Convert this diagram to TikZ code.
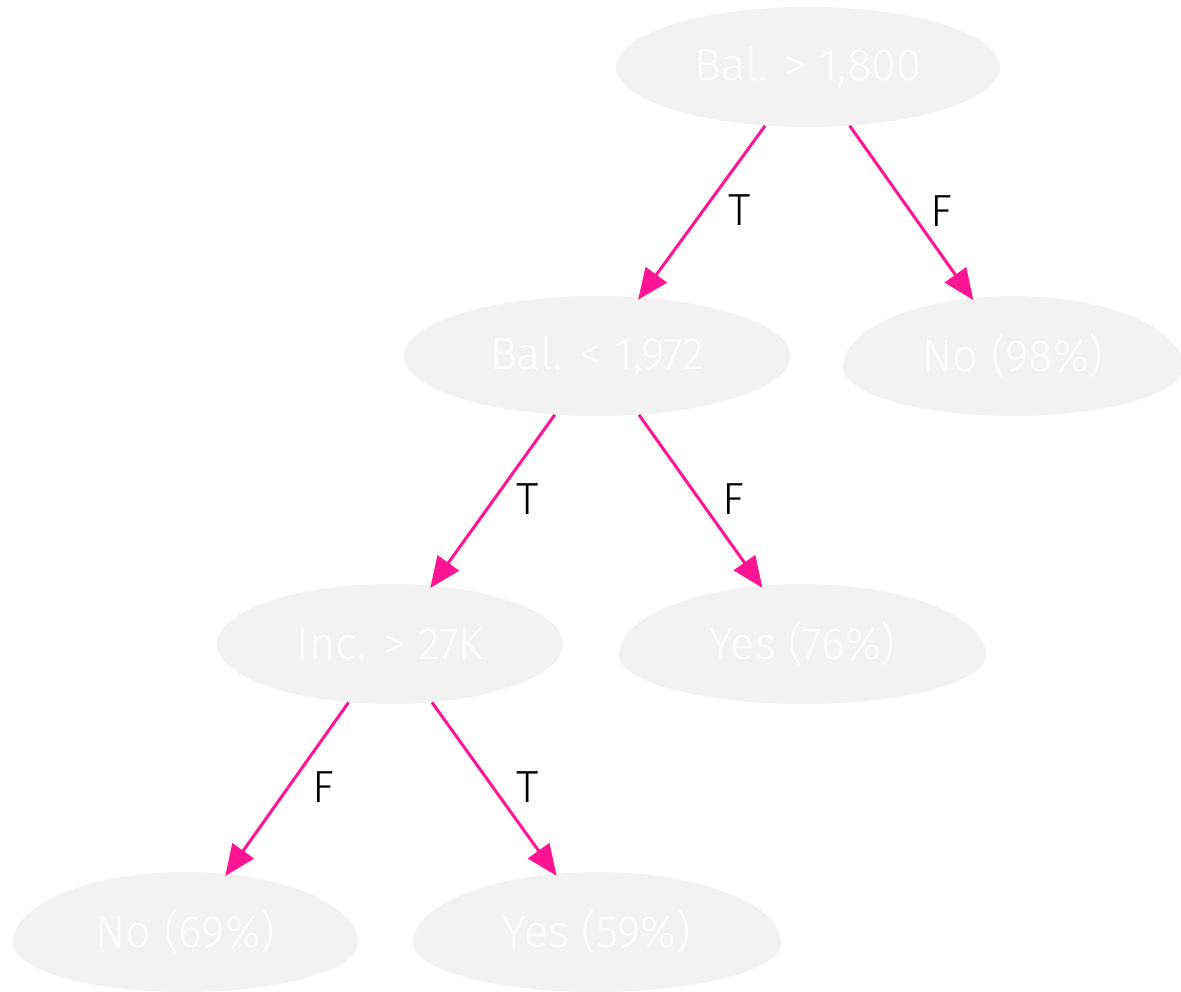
\documentclass[tikz,border=0pt]{standalone}
\usepackage{fontspec}
\setmainfont{Fira Sans Light}
\usetikzlibrary{shapes.geometric,arrows.meta,backgrounds,calc}
\definecolor{nodegrey}{HTML}{F2F2F2}
\definecolor{edgepink}{HTML}{FF1493}

% egg-shaped fill under a leaf node: #1 node name, #2 half width
\newcommand\eggfill[2]{%
  \fill[nodegrey] ($(#1.center)+(-#2,-11)$)
    arc[start angle=180,end angle=0,x radius=#2,y radius=71]
    arc[start angle=0,end angle=-180,x radius=#2,y radius=49] -- cycle;}

\begin{document}
\begin{tikzpicture}[x=1pt,y=1pt,
  every node/.style={font=\fontsize{45}{54}\selectfont},
  split/.style={ellipse, fill=nodegrey, text=white, inner sep=0pt, minimum height=120pt},
  leaf/.style={ellipse, text=white, inner sep=0pt, minimum height=120pt},
  branch/.style={draw=edgepink, line width=3pt,
    -{Triangle[length=31pt,width=26pt,fill=edgepink]}, shorten >=-3pt},
  cond/.style={text=black, yshift=1pt}]
\useasboundingbox (0,0) rectangle (1181,-992);

% decision nodes
\node[split, minimum width=384pt] (root) at (808,-67) {Bal. > 1,800};
\node[split, minimum width=386pt] (bal) at (597,-356) {Bal. < 1,972};
\node[split, minimum width=346pt] (inc) at (390,-644) {Inc. > 27K};

% leaves
\node[leaf, minimum width=340pt] (no98) at (1013,-356) {No (98\%)};
\node[leaf, minimum width=367pt] (yes76) at (802.5,-644) {Yes (76\%)};
\node[leaf, minimum width=345pt] (no69) at (185.5,-932) {No (69\%)};
\node[leaf, minimum width=368pt] (yes59) at (597,-932) {Yes (59\%)};

\begin{scope}[on background layer]
  \eggfill{no98}{170}
  \eggfill{yes76}{183.5}
  \eggfill{no69}{172.5}
  \eggfill{yes59}{184}
\end{scope}

% branches
\draw[branch] (root) -- (bal) node[cond, pos=0.5, xshift=37pt] {T};
\draw[branch] (root) -- (no98) node[cond, pos=0.5, xshift=31pt] {F};
\draw[branch] (bal) -- (inc) node[cond, pos=0.5, xshift=34pt] {T};
\draw[branch] (bal) -- (yes76) node[cond, pos=0.5, xshift=34pt] {F};
\draw[branch] (inc) -- (no69) node[cond, pos=0.5, xshift=36pt] {F};
\draw[branch] (inc) -- (yes59) node[cond, pos=0.5, xshift=34pt] {T};
\end{tikzpicture}
\end{document}
